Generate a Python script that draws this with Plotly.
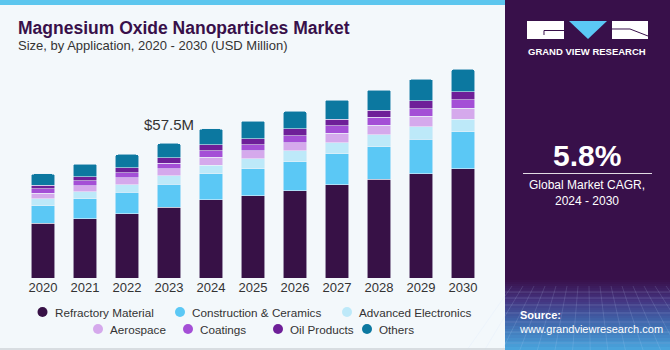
import plotly.graph_objects as go

years = ["2020", "2021", "2022", "2023", "2024", "2025", "2026", "2027", "2028", "2029", "2030"]
refractory = [23.4, 25.3, 27.4, 30.2, 33.3, 35.1, 37.2, 39.7, 42.2, 44.4, 46.7]
construction = [7.5, 8.5, 9.1, 9.9, 11.1, 11.6, 12.5, 13.3, 13.9, 14.8, 15.6]
electronics = [3.0, 3.0, 3.3, 3.5, 3.8, 4.1, 4.6, 4.7, 5.0, 5.4, 5.5]
aerospace = [2.3, 2.6, 2.9, 3.0, 3.4, 3.4, 3.5, 4.0, 4.1, 4.3, 4.6]
coatings = [1.8, 2.0, 2.3, 2.4, 2.6, 2.6, 2.9, 3.3, 3.3, 3.4, 3.7]
oil = [1.6, 1.8, 2.0, 2.3, 2.6, 2.7, 2.9, 2.7, 3.1, 3.3, 3.4]
others = [4.8, 5.4, 5.7, 6.1, 6.8, 7.4, 7.5, 8.2, 8.6, 9.2, 9.5]

series_names = ["Refractory Material", "Construction & Ceramics", "Advanced Electronics",
                "Aerospace", "Coatings", "Oil Products", "Others"]
series_values = [refractory, construction, electronics, aerospace, coatings, oil, others]
colors = ["#371146", "#5bc8f5", "#bde9f9", "#d5a9ec", "#a44fd6", "#6e1f98", "#0c78a0"]

label_year = "2023"
label_text = "$57.5M"

W, H = 670, 350
L, R, T, B = 22, 186, 60, 72
PW, PH = W - L - R, H - T - B


def px(x):
    return (x - L) / PW


def py(y):
    return (H - B - y) / PH


fig = go.Figure()
for name, vals, col in zip(series_names, series_values, colors):
    fig.add_trace(go.Bar(
        x=years, y=vals, name=name, marker_color=col,
        marker_line=dict(color="rgba(235,243,250,0.7)", width=0.8),
        showlegend=False, hoverinfo="skip"))

totals = [sum(v) for v in zip(*series_values)]
idx = years.index(label_year)

shapes = []
annotations = []

# top stripe and bottom line
shapes.append(dict(type="rect", xref="paper", yref="paper", x0=px(0), x1=px(505), y0=py(5), y1=py(0),
                   fillcolor="#5cc6ee", line_width=0, layer="below"))
shapes.append(dict(type="line", xref="paper", yref="paper", x0=px(0), x1=px(505), y0=py(349), y1=py(349),
                   line=dict(color="#cfd4d8", width=1.5)))

# right panel
shapes.append(dict(type="rect", xref="paper", yref="paper", x0=px(505), x1=px(670), y0=py(350), y1=py(0),
                   fillcolor="#38104a", line_width=0, layer="below"))


def lerp(c1, c2, t):
    a = [int(c1[i:i + 2], 16) for i in (1, 3, 5)]
    b = [int(c2[i:i + 2], 16) for i in (1, 3, 5)]
    return "rgb(%d,%d,%d)" % tuple(round(a[k] + (b[k] - a[k]) * t) for k in range(3))


stops = [(280, "#38104a"), (300, "#44337f"), (320, "#3f62a8"), (350, "#4aa6de")]
for s in range(len(stops) - 1):
    y0, c0 = stops[s]
    y1, c1 = stops[s + 1]
    n = 10
    for i in range(n):
        ya = y0 + (y1 - y0) * i / n
        yb = y0 + (y1 - y0) * (i + 1) / n
        shapes.append(dict(type="rect", xref="paper", yref="paper", x0=px(505), x1=px(670),
                           y0=py(yb + 0.5), y1=py(ya), fillcolor=lerp(c0, c1, (i + 0.5) / n),
                           line_width=0, layer="below"))
# faint mesh lines
for yy in [292, 298, 305, 313, 322, 332, 343]:
    shapes.append(dict(type="line", xref="paper", yref="paper", x0=px(505), x1=px(670), y0=py(yy), y1=py(yy),
                       line=dict(color="rgba(200,220,255,0.18)", width=1), layer="below"))
for xx in range(512, 670, 11):
    shapes.append(dict(type="line", xref="paper", yref="paper", x0=px(xx), x1=px(xx + (xx - 587) * 0.6),
                       y0=py(286), y1=py(350), line=dict(color="rgba(200,220,255,0.15)", width=1), layer="below"))

# logo
shapes.append(dict(type="rect", xref="paper", yref="paper", x0=px(527), x1=px(564), y0=py(39), y1=py(21),
                   fillcolor="white", line_width=0))
shapes.append(dict(type="path", xref="paper", yref="paper",
                   path="M %f %f L %f %f L %f %f Z" % (px(569), py(21), px(607), py(21), px(588), py(39)),
                   fillcolor="#5bc8f5", line_width=0))
shapes.append(dict(type="rect", xref="paper", yref="paper", x0=px(612), x1=px(648), y0=py(39), y1=py(21),
                   fillcolor="white", line_width=0))
shapes.append(dict(type="path", xref="paper", yref="paper",
                   path="M %f %f L %f %f L %f %f" % (px(564), py(30.5), px(544), py(30.5), px(544), py(35)),
                   line=dict(color="#38104a", width=1)))
shapes.append(dict(type="path", xref="paper", yref="paper",
                   path="M %f %f L %f %f L %f %f" % (px(612), py(29), px(630), py(29), px(648), py(36)),
                   line=dict(color="#38104a", width=1)))
annotations.append(dict(text="GRAND VIEW RESEARCH", x=px(587), y=py(51.5), xref="paper", yref="paper",
                        showarrow=False, xanchor="center", yanchor="middle",
                        font=dict(family="Liberation Sans", size=9.5, color="white", weight="bold")))

# CAGR
annotations.append(dict(text="5.8%", x=px(587), y=py(155), xref="paper", yref="paper", showarrow=False,
                        xanchor="center", yanchor="middle",
                        font=dict(family="Liberation Sans", size=30, color="white", weight="bold")))
shapes.append(dict(type="line", xref="paper", yref="paper", x0=px(523), x1=px(652), y0=py(173.5), y1=py(173.5),
                   line=dict(color="rgba(255,255,255,0.85)", width=1)))
annotations.append(dict(text="Global Market CAGR,<br>2024 - 2030", x=px(587), y=py(193), xref="paper", yref="paper",
                        showarrow=False, xanchor="center", yanchor="middle", align="center",
                        font=dict(family="Liberation Sans", size=12, color="white")))
annotations.append(dict(text="<b>Source:</b><br>www.grandviewresearch.com", x=px(517), y=py(322), xref="paper",
                        yref="paper", showarrow=False, xanchor="left", yanchor="middle", align="left",
                        font=dict(family="Liberation Sans", size=11, color="white")))

# title
annotations.append(dict(text="Magnesium Oxide Nanoparticles Market", x=px(16), y=py(28), xref="paper", yref="paper",
                        showarrow=False, xanchor="left", yanchor="middle",
                        font=dict(family="Liberation Sans", size=17.5, color="#38104a", weight=900)))
annotations.append(dict(text="Size, by Application, 2020 - 2030 (USD Million)", x=px(16), y=py(46), xref="paper",
                        yref="paper", showarrow=False, xanchor="left", yanchor="middle",
                        font=dict(family="Liberation Sans", size=13, color="#333333")))

# value label
annotations.append(dict(text=label_text, x=idx, y=totals[idx], xref="x", yref="y", showarrow=False,
                        xanchor="center", yanchor="bottom", yshift=8,
                        font=dict(family="Liberation Sans", size=15, color="#333333")))

# legend (manual)
legend_pos = [(42.5, 312), (180, 312), (347, 312), (98, 329), (188, 329), (278, 329), (367, 329)]
for (mx, my), name, col in zip(legend_pos, series_names, colors):
    shapes.append(dict(type="circle", xref="paper", yref="paper", xsizemode="pixel", ysizemode="pixel",
                       xanchor=px(mx), yanchor=py(my), x0=-5, x1=5, y0=-5, y1=5, fillcolor=col, line_width=0))
    annotations.append(dict(text=name, x=px(mx + 10), y=py(my), xref="paper", yref="paper", showarrow=False,
                            xanchor="left", yanchor="middle",
                            font=dict(family="Liberation Sans", size=11.7, color="#333333")))

fig.update_layout(
    width=W, height=H, barmode="stack", bargap=0.43, barcornerradius=3,
    margin=dict(l=L, r=R, t=T, b=B, autoexpand=False),
    paper_bgcolor="#f3f8fb", plot_bgcolor="#f3f8fb",
    shapes=shapes, annotations=annotations,
    xaxis=dict(type="category", range=[-0.5, 10.5], showgrid=False, zeroline=False, showline=False, ticks="",
               tickfont=dict(family="Liberation Sans", size=13, color="#333333"), fixedrange=True),
    yaxis=dict(range=[0, 93], visible=False, fixedrange=True),
    showlegend=False,
)

fig.write_html("out.html")
